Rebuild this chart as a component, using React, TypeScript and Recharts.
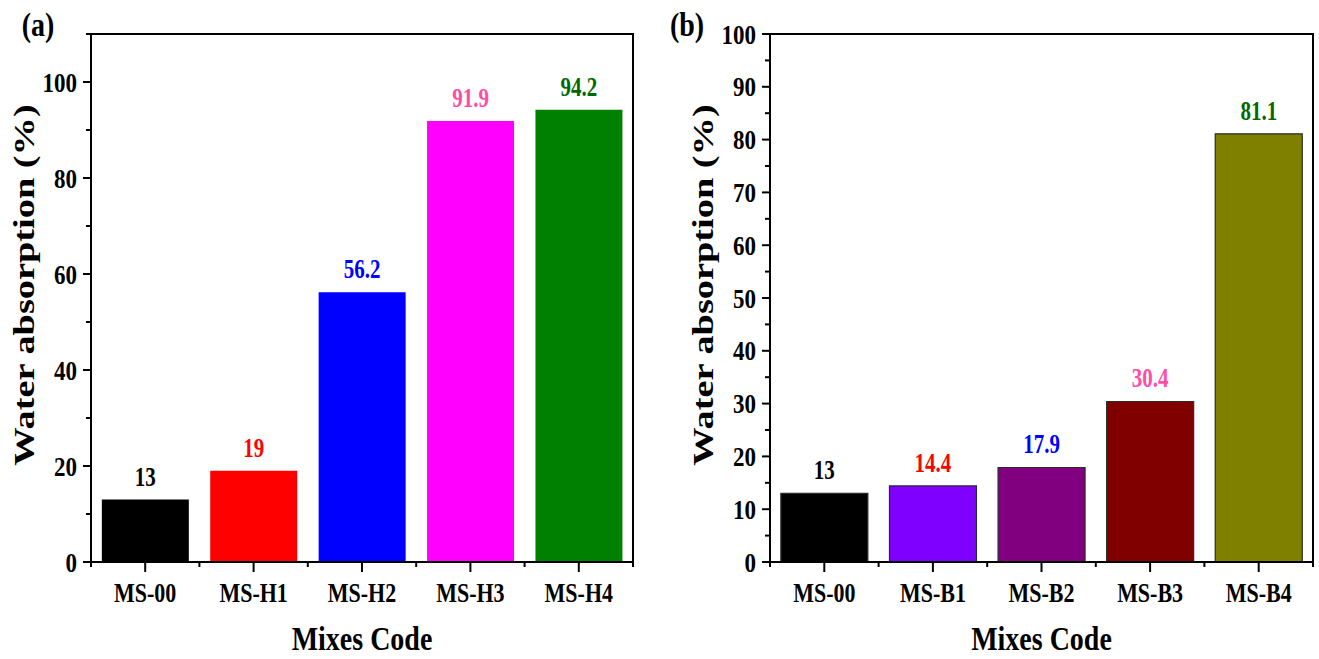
import React from 'react';
import { BarChart, Bar, XAxis, YAxis, Cell, LabelList, ReferenceArea } from 'recharts';

// ---- data ----
const mixesA = ['MS-00', 'MS-H1', 'MS-H2', 'MS-H3', 'MS-H4'];
const absorptionA = [13, 19, 56.2, 91.9, 94.2];
const barColorsA = ['#000000', '#ff0000', '#0000ff', '#ff00ff', '#008000'];
const labelColorsA = ['#000000', '#ff0000', '#0000ff', '#ff4da6', '#006800'];
const yTicksA = [0, 10, 20, 30, 40, 50, 60, 70, 80, 90, 100, 110];
const yMajorA = [0, 20, 40, 60, 80, 100];

const mixesB = ['MS-00', 'MS-B1', 'MS-B2', 'MS-B3', 'MS-B4'];
const absorptionB = [13, 14.4, 17.9, 30.4, 81.1];
const barColorsB = ['#000000', '#8000ff', '#800080', '#800000', '#808000'];
const labelColorsB = ['#000000', '#ff0000', '#0000ff', '#ff4da6', '#006800'];
const yTicksB = [0, 5, 10, 15, 20, 25, 30, 35, 40, 45, 50, 55, 60, 65, 70, 75, 80, 85, 90, 95, 100];
const yMajorB = [0, 10, 20, 30, 40, 50, 60, 70, 80, 90, 100];

// ---- layout / style ----
const FONT = '"Liberation Serif", "Times New Roman", serif';
const CHART_H = 659;
const TOP = 34;
const XAXIS_H = 97;
const RIGHT = 7;
const PLOT_BOTTOM = CHART_H - XAXIS_H;
const AXIS = { stroke: '#000', strokeWidth: 2 };

type PanelProps = {
  letter: string;
  letterDx: number;
  categories: string[];
  values: number[];
  barColors: string[];
  labelColors: string[];
  yMax: number;
  yTicks: number[];
  yMajor: number[];
  barStroke?: string;
  left: number;
  width: number;
  yAxisWidth: number;
};

function Panel(p: PanelProps) {
  const data = p.categories.map((mix, i) => ({ mix, value: p.values[i] }));
  const n = data.length;
  const plotW = p.width - p.yAxisWidth - RIGHT;
  const band = plotW / n;
  const axisX = p.yAxisWidth;
  const plotMidX = axisX + plotW / 2;

  const yTick = (t: any) => {
    const { x, y, payload } = t;
    const major = p.yMajor.includes(payload.value);
    return (
      <g>
        <line x1={x - (major ? 8 : 5)} y1={y} x2={x} y2={y} stroke="#000" strokeWidth={2} />
        {major && (
          <text
            transform={`translate(${x - 14},${y}) scale(1,1.2)`}
            dy="0.35em"
            textAnchor="end"
            fontFamily={FONT}
            fontWeight="bold"
            fontSize={23}
            fill="#000"
          >
            {payload.value}
          </text>
        )}
      </g>
    );
  };

  const xTick = (t: any) => {
    const { x, y, payload, index } = t;
    return (
      <g>
        <line x1={x} y1={y} x2={x} y2={y + 10} stroke="#000" strokeWidth={2} />
        <line x1={x - band / 2} y1={y} x2={x - band / 2} y2={y + 5} stroke="#000" strokeWidth={2} />
        {index === n - 1 && (
          <line x1={x + band / 2} y1={y} x2={x + band / 2} y2={y + 5} stroke="#000" strokeWidth={2} />
        )}
        <text
          transform={`translate(${x},${y + 40}) scale(1,1.2)`}
          textAnchor="middle"
          fontFamily={FONT}
          fontWeight="bold"
          fontSize={22}
          fill="#000"
        >
          {payload.value}
        </text>
      </g>
    );
  };

  const valueLabel = (lp: any) => {
    const { x, y, width, value, index } = lp;
    return (
      <text
        transform={`translate(${x + width / 2},${y - 14}) scale(1,1.3)`}
        textAnchor="middle"
        fontFamily={FONT}
        fontWeight="bold"
        fontSize={21}
        fill={p.labelColors[index]}
      >
        {value}
      </text>
    );
  };

  const yTitle = () => (
    <g>
      <text
        transform={`translate(${axisX - 67},${(TOP + PLOT_BOTTOM) / 2 - 13}) rotate(-90) scale(1.3,1)`}
        dy="0.35em"
        textAnchor="middle"
        fontFamily={FONT}
        fontWeight="bold"
        fontSize={29.5}
        fill="#000"
      >
        Water absorption (%)
      </text>
      <text
        transform={`translate(${axisX - p.letterDx},36) scale(1,1.2)`}
        textAnchor="middle"
        fontFamily={FONT}
        fontWeight="bold"
        fontSize={28}
        fill="#000"
      >
        {p.letter}
      </text>
    </g>
  );

  const xTitle = () => (
    <text
      transform={`translate(${plotMidX},${PLOT_BOTTOM + 88}) scale(1,1.2)`}
      textAnchor="middle"
      fontFamily={FONT}
      fontWeight="bold"
      fontSize={28}
      fill="#000"
    >
      Mixes Code
    </text>
  );

  return (
    <div style={{ position: 'absolute', left: p.left, top: 0 }}>
      <BarChart
        width={p.width}
        height={CHART_H}
        data={data}
        margin={{ top: TOP, right: RIGHT, bottom: 0, left: 0 }}
        barCategoryGap="10%"
      >
        <XAxis
          dataKey="mix"
          height={XAXIS_H}
          interval={0}
          tickSize={0}
          tickMargin={0}
          tickLine={false}
          axisLine={AXIS}
          tick={xTick}
          label={{ content: xTitle }}
        />
        <YAxis
          width={p.yAxisWidth}
          type="number"
          domain={[0, p.yMax]}
          ticks={p.yTicks}
          interval={0}
          tickSize={0}
          tickMargin={0}
          tickLine={false}
          axisLine={AXIS}
          tick={yTick}
          label={{ content: yTitle }}
        />
        {/* frame around the plot area (top and right sides) */}
        <ReferenceArea
          y1={0}
          y2={p.yMax}
          fill="none"
          fillOpacity={0}
          stroke="#000"
          strokeWidth={2}
          ifOverflow="visible"
        />
        <Bar
          dataKey="value"
          isAnimationActive={false}
          stroke={p.barStroke ?? 'none'}
          strokeWidth={p.barStroke ? 1.2 : 0}
        >
          {data.map((d, i) => (
            <Cell key={d.mix} fill={p.barColors[i]} />
          ))}
          <LabelList dataKey="value" content={valueLabel} />
        </Bar>
      </BarChart>
    </div>
  );
}

export default function App() {
  return (
    <div
      style={{
        position: 'absolute',
        left: 0,
        top: 0,
        width: 1319,
        height: 659,
        background: '#fff',
        overflow: 'hidden',
      }}
    >
      <Panel
        letter="(a)"
        letterDx={53}
        categories={mixesA}
        values={absorptionA}
        barColors={barColorsA}
        labelColors={labelColorsA}
        yMax={110}
        yTicks={yTicksA}
        yMajor={yMajorA}
        left={0}
        width={640}
        yAxisWidth={91}
      />
      <Panel
        letter="(b)"
        letterDx={83}
        categories={mixesB}
        values={absorptionB}
        barColors={barColorsB}
        labelColors={labelColorsB}
        yMax={100}
        yTicks={yTicksB}
        yMajor={yMajorB}
        barStroke="#2a2a2a"
        left={660}
        width={660}
        yAxisWidth={110}
      />
    </div>
  );
}
